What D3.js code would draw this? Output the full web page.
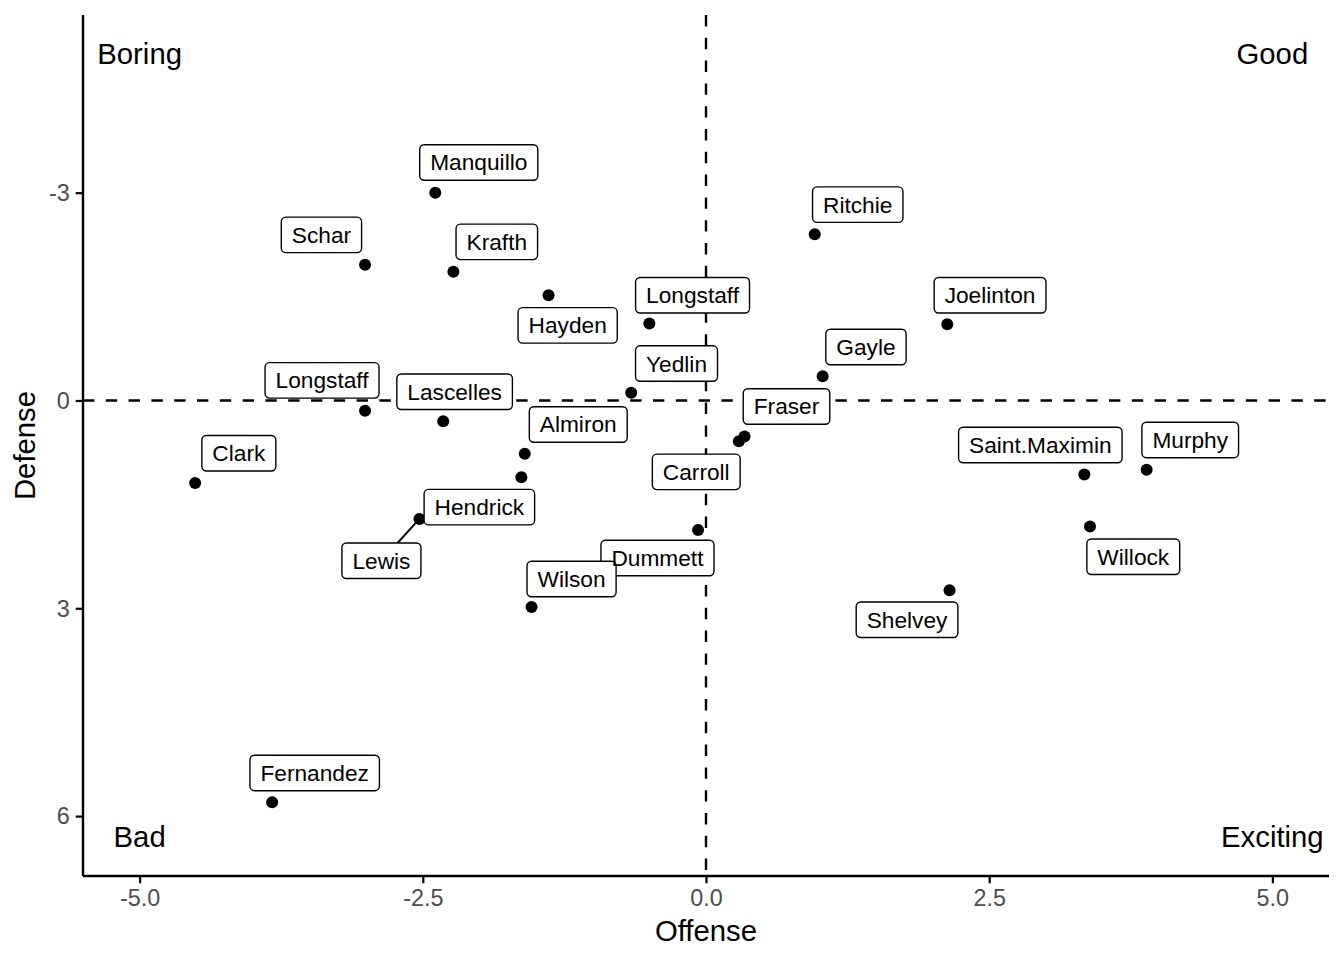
<!DOCTYPE html>
<html><head><meta charset="utf-8">
<script src="https://cdn.jsdelivr.net/npm/d3@7"></script>
<style>body{margin:0;background:#fff;} svg{display:block;font-family:"Liberation Sans",Arial,Helvetica,sans-serif;}</style>
</head><body><svg id="chart" width="1344" height="960"></svg>
<script>
// ---- data ----
const players = ["Manquillo","Schar","Krafth","Hayden","Longstaff","Ritchie","Joelinton","Gayle","Yedlin","Longstaff","Lascelles","Almiron","Hendrick","Fraser","Carroll","Clark","Lewis","Dummett","Wilson","Shelvey","Saint.Maximin","Murphy","Willock","Fernandez"];
const offense = [-2.39,-3.01,-2.23,-1.39,-0.50,0.96,2.13,1.03,-0.66,-3.01,-2.32,-1.60,-1.63,0.34,0.29,-4.51,-2.53,-0.07,-1.54,2.15,3.34,3.89,3.39,-3.83];
const defense = [-3.00,-1.96,-1.86,-1.52,-1.11,-2.40,-1.10,-0.35,-0.11,0.15,0.30,0.77,1.11,0.52,0.59,1.19,1.71,1.87,2.98,2.74,1.07,1.00,1.82,5.80];
const xTicks = [-5,-2.5,0,2.5,5];
const yTicks = [-3,0,3,6];
const quadrantLabels = ["Boring","Good","Bad","Exciting"];
const quadrantX = [-5,5,-5,5];
const quadrantY = [-5,-5,6.3,6.3];

// ---- layout: repelled label offsets (px from point) ----
const labelDx = [43.5,-43.6,43.4,19.1,43.2,43,42.8,43.3,45.3,-43,11.4,53.5,-42,42,-42.6,43.7,-38,-40.6,40,-42.5,-44,43.6,43.3,42.5];
const labelDy = [-30.2,-29.8,-29.8,30.2,-28.3,-29.6,-29,-29.2,-29.3,-30.5,-29.5,-29.3,29.8,-30,30.5,-29.7,41.8,28,-27.9,29.5,-29.6,-29.8,30.2,-29.3];

const W = 1344, H = 960;
const panel = {left: 83, right: 1329, top: 15, bottom: 876};
const svg = d3.select("#chart");

const x = d3.scaleLinear().domain([-5.5, 5.5]).range([panel.left, panel.right]);
const y = d3.scaleLinear().domain([-5.565, 6.865]).range([panel.top, panel.bottom]);

const data = players.map((p, i) => ({name: p, ox: offense[i], dy: defense[i], ldx: labelDx[i], ldy: labelDy[i]}));

// points
svg.append("g").selectAll("circle").data(data).join("circle")
  .attr("cx", d => x(d.ox)).attr("cy", d => y(d.dy)).attr("r", 6).attr("fill", "#000");

// reference lines
svg.append("line").attr("x1", x(0)).attr("x2", x(0)).attr("y1", panel.top).attr("y2", panel.bottom)
  .attr("stroke", "#000").attr("stroke-width", 2.4).attr("stroke-dasharray", "11.4,11.4");
svg.append("line").attr("x1", panel.left).attr("x2", panel.right).attr("y1", y(0)).attr("y2", y(0))
  .attr("stroke", "#000").attr("stroke-width", 2.4).attr("stroke-dasharray", "11.4,11.4");

// labels
const fs = 22.7, pad = 10.5, boxH = 35.5;
const meas = svg.append("text").attr("font-size", fs).attr("visibility", "hidden");
data.forEach(d => {
  meas.text(d.name);
  d.w = meas.node().getComputedTextLength() + 2 * pad;
  d.px = x(d.ox); d.py = y(d.dy);
  d.cx = d.px + d.ldx; d.cy = d.py + d.ldy;
});
meas.remove();

// segments (only where label is far from its point)
const segG = svg.append("g");
data.forEach(d => {
  const vx = d.cx - d.px, vy = d.cy - d.py;
  const hw = d.w / 2, hh = boxH / 2;
  const sx = vx !== 0 ? hw / Math.abs(vx) : Infinity;
  const sy = vy !== 0 ? hh / Math.abs(vy) : Infinity;
  const s = Math.min(sx, sy);
  if (s >= 1) return;
  const ex = d.cx - vx * s, ey = d.cy - vy * s;
  const len = Math.hypot(ex - d.px, ey - d.py);
  if (len > 27) {
    segG.append("line").attr("x1", d.px).attr("y1", d.py).attr("x2", ex).attr("y2", ey)
      .attr("stroke", "#000").attr("stroke-width", 2);
  }
});

const rectG = svg.append("g"), textG = svg.append("g");
rectG.selectAll("rect").data(data).join("rect")
  .attr("x", d => d.cx - d.w / 2).attr("y", d => d.cy - boxH / 2)
  .attr("width", d => d.w).attr("height", boxH)
  .attr("rx", 4.5).attr("ry", 4.5)
  .attr("fill", "#fff").attr("stroke", "#000").attr("stroke-width", 1.4);
textG.selectAll("text").data(data).join("text")
  .attr("x", d => d.cx).attr("y", d => d.cy).attr("dy", "0.35em")
  .attr("text-anchor", "middle").attr("font-size", fs).attr("fill", "#000")
  .text(d => d.name);

// quadrant annotations
svg.append("g").selectAll("text").data(quadrantLabels).join("text")
  .attr("x", (d, i) => x(quadrantX[i])).attr("y", (d, i) => y(quadrantY[i])).attr("dy", "0.35em")
  .attr("text-anchor", "middle").attr("font-size", 29.3).attr("fill", "#000").text(d => d);

// axes
const fmtX = v => d3.format(".1f")(v).replace("\u2212", "-");
const fmtY = v => d3.format("d")(v).replace("\u2212", "-");
const xAxis = svg.append("g").attr("transform", `translate(0,${panel.bottom})`)
  .call(d3.axisBottom(x).tickValues(xTicks).tickFormat(fmtX).tickSize(7.3).tickPadding(5.9));
const yAxis = svg.append("g").attr("transform", `translate(${panel.left},0)`)
  .call(d3.axisLeft(y).tickValues(yTicks).tickFormat(fmtY).tickSize(7.3).tickPadding(5.9));
[xAxis, yAxis].forEach(a => {
  a.select(".domain").remove();
  a.selectAll(".tick line").attr("stroke", "#000").attr("stroke-width", 2.2);
  a.selectAll(".tick text").attr("fill", "#4D4D4D").attr("font-size", 23.4)
    .attr("font-family", '"Liberation Sans",Arial,Helvetica,sans-serif');
});
yAxis.selectAll(".tick text").attr("dy", "0.33em");
svg.append("line").attr("x1", panel.left).attr("x2", panel.right).attr("y1", panel.bottom).attr("y2", panel.bottom)
  .attr("stroke", "#000").attr("stroke-width", 2.4);
svg.append("line").attr("x1", panel.left).attr("x2", panel.left).attr("y1", panel.top).attr("y2", panel.bottom)
  .attr("stroke", "#000").attr("stroke-width", 2.4);

// axis titles
svg.append("text").attr("x", (panel.left + panel.right) / 2).attr("y", 941)
  .attr("text-anchor", "middle").attr("font-size", 29.3).attr("fill", "#000").text("Offense");
svg.append("text").attr("transform", `translate(35,${(panel.top + panel.bottom) / 2}) rotate(-90)`)
  .attr("text-anchor", "middle").attr("font-size", 29.3).attr("fill", "#000").text("Defense");
</script></body></html>
